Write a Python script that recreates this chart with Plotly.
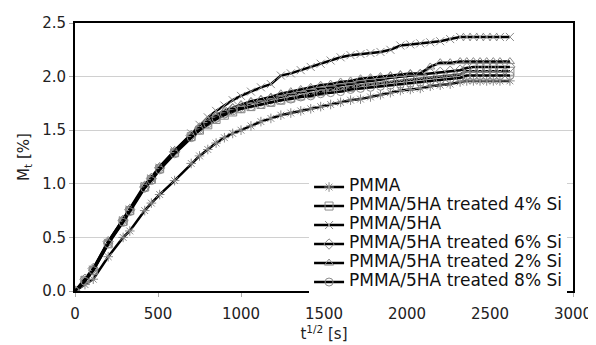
import plotly.graph_objects as go

x_vals = [0, 60, 110, 200, 290, 330, 420, 460, 510, 600, 700, 750, 800, 850, 900, 950,
          1000, 1060, 1120, 1180, 1240, 1300, 1360, 1420, 1480, 1540, 1600, 1660, 1720,
          1780, 1840, 1900, 1960, 2020, 2080, 2140, 2200, 2260, 2320, 2360, 2400, 2440,
          2480, 2520, 2560, 2620]

pmma = [0, 0.06, 0.11, 0.32, 0.50, 0.56, 0.75, 0.82, 0.90, 1.03, 1.19, 1.26, 1.32, 1.38,
        1.43, 1.47, 1.50, 1.54, 1.58, 1.61, 1.64, 1.66, 1.68, 1.70, 1.72, 1.74, 1.76, 1.78,
        1.79, 1.81, 1.83, 1.85, 1.87, 1.88, 1.89, 1.91, 1.92, 1.93, 1.95, 1.96, 1.96, 1.96,
        1.96, 1.96, 1.96, 1.96]

si4 = [0, 0.10, 0.19, 0.44, 0.65, 0.75, 0.97, 1.04, 1.14, 1.29, 1.44, 1.50, 1.55, 1.60,
       1.64, 1.67, 1.70, 1.72, 1.74, 1.76, 1.78, 1.80, 1.82, 1.84, 1.86, 1.88, 1.89, 1.90,
       1.92, 1.93, 1.94, 1.95, 1.96, 1.97, 1.98, 1.99, 2.00, 2.01, 2.02, 2.05, 2.05, 2.05,
       2.05, 2.05, 2.05, 2.05]

ha5 = [0, 0.10, 0.20, 0.45, 0.66, 0.76, 0.98, 1.05, 1.15, 1.31, 1.47, 1.55, 1.62, 1.68,
       1.73, 1.78, 1.82, 1.86, 1.90, 1.93, 2.01, 2.03, 2.06, 2.09, 2.12, 2.15, 2.18, 2.20,
       2.21, 2.22, 2.23, 2.25, 2.29, 2.30, 2.31, 2.32, 2.33, 2.35, 2.37, 2.37, 2.37, 2.37,
       2.37, 2.37, 2.37, 2.37]

si6 = [0, 0.11, 0.21, 0.46, 0.66, 0.76, 0.97, 1.05, 1.15, 1.30, 1.45, 1.52, 1.58, 1.62,
       1.66, 1.70, 1.72, 1.75, 1.77, 1.79, 1.81, 1.83, 1.85, 1.87, 1.89, 1.90, 1.92, 1.93,
       1.95, 1.96, 1.97, 1.99, 2.00, 2.01, 2.02, 2.03, 2.04, 2.05, 2.06, 2.08, 2.09, 2.09,
       2.09, 2.09, 2.09, 2.09]

si2 = [0, 0.10, 0.21, 0.46, 0.67, 0.77, 0.99, 1.06, 1.16, 1.31, 1.46, 1.53, 1.59, 1.64,
       1.68, 1.71, 1.74, 1.77, 1.79, 1.81, 1.84, 1.86, 1.88, 1.90, 1.92, 1.93, 1.95, 1.96,
       1.98, 1.99, 2.00, 2.01, 2.02, 2.03, 2.03, 2.09, 2.13, 2.13, 2.14, 2.14, 2.14, 2.14,
       2.14, 2.14, 2.14, 2.14]

si8 = [0, 0.09, 0.19, 0.44, 0.64, 0.74, 0.96, 1.03, 1.13, 1.28, 1.43, 1.50, 1.56, 1.61,
       1.65, 1.68, 1.70, 1.72, 1.74, 1.76, 1.78, 1.79, 1.81, 1.82, 1.84, 1.85, 1.86, 1.88,
       1.89, 1.90, 1.91, 1.92, 1.93, 1.94, 1.95, 1.96, 1.97, 1.98, 1.99, 2.01, 2.01, 2.01,
       2.01, 2.01, 2.01, 2.01]

series_names = ["PMMA", "PMMA/5HA treated 4% Si", "PMMA/5HA",
                "PMMA/5HA treated 6% Si", "PMMA/5HA treated 2% Si",
                "PMMA/5HA treated 8% Si"]
series_values = [pmma, si4, ha5, si6, si2, si8]
series_symbols = ["asterisk-open", "square-open", "x-thin-open",
                  "diamond-open", "triangle-up-open", "circle-open"]

x_ticks = [0, 500, 1000, 1500, 2000, 2500, 3000]
y_ticks = [0.0, 0.5, 1.0, 1.5, 2.0, 2.5]

FONT = "DejaVu Sans, Verdana, sans-serif"

fig = go.Figure()
for name, vals, sym in zip(series_names, series_values, series_symbols):
    fig.add_trace(go.Scatter(
        x=x_vals, y=vals,
        name='<span style="font-size:17px">' + name + '</span>',
        mode="lines+markers",
        line=dict(color="black", width=2.5),
        marker=dict(symbol=sym, size=8, color="#8a8a8a",
                    line=dict(color="#8a8a8a", width=1)),
    ))

# page body has an 8px default margin; figure sized to fit the 596x345 window
fig.update_layout(
    width=588, height=337,
    margin=dict(l=67, r=23, t=15, b=54),
    paper_bgcolor="white", plot_bgcolor="white",
    font=dict(family=FONT, size=15, color="#222222"),
    showlegend=True,
    legend=dict(x=0.47, y=0.442, xanchor="left", yanchor="top",
                bgcolor="white", borderwidth=0,
                font=dict(family=FONT, size=11, color="#111111"),
                tracegroupgap=0, itemwidth=30),
)
fig.update_xaxes(
    range=[0, 3000], tickvals=x_ticks, ticktext=[str(v) for v in x_ticks],
    showgrid=False, zeroline=False, automargin=False,
    showline=True, linecolor="black", linewidth=2, mirror=True,
    ticks="outside", ticklen=4, tickcolor="#aaaaaa", ticklabelstandoff=4,
    tickfont=dict(family=FONT, size=15, color="#222222"),
    title=dict(text="t<sup>1/2</sup> [s]", standoff=6,
               font=dict(family=FONT, size=15)),
)
fig.update_yaxes(
    range=[0, 2.5], tickvals=y_ticks, ticktext=[f"{v:.1f}" for v in y_ticks],
    showgrid=True, gridcolor="#d0d0d0", gridwidth=1, zeroline=False, automargin=False,
    showline=True, linecolor="black", linewidth=2, mirror=True,
    ticks="outside", ticklen=4, tickcolor="#aaaaaa",
    tickfont=dict(family=FONT, size=15, color="#222222"),
    title=dict(text="M<sub>t</sub> [%]", standoff=9,
               font=dict(family=FONT, size=15)),
)

fig.write_html("out.html")
